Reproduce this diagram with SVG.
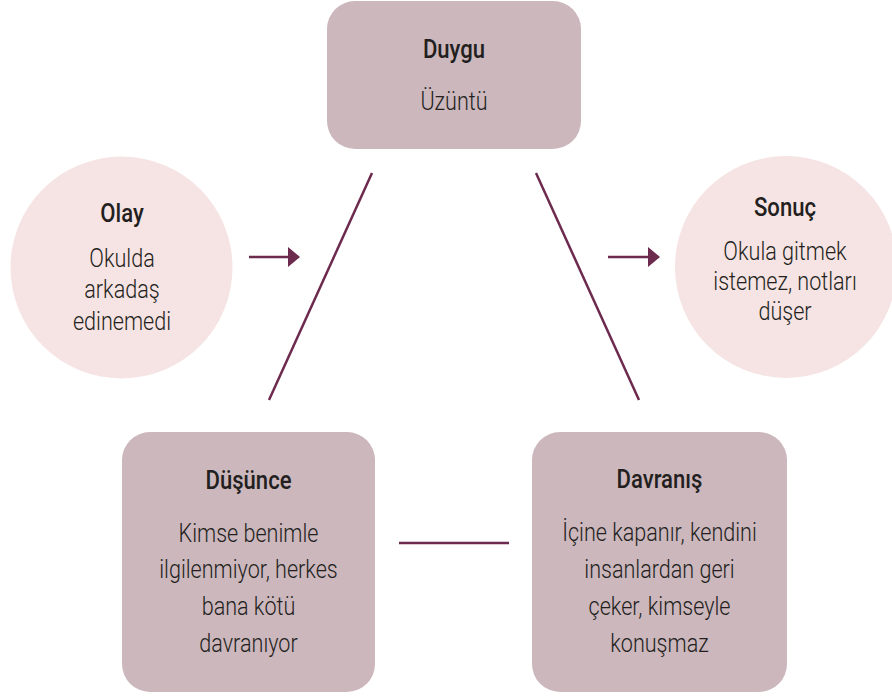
<svg xmlns="http://www.w3.org/2000/svg" width="892" height="696" viewBox="0 0 892 696">
<defs>
<style>
.box{fill:#ccb7bd;}
.circ{fill:#f6e3e3;}
.ln{stroke:#6d2a4f;stroke-width:2.5;fill:none;}
.ah{fill:#6d2a4f;}
text{font-family:Roboto,"Liberation Sans",Arial,sans-serif;fill:#231f20;text-anchor:middle;}
.t{font-size:26px;font-weight:500;}
.b{font-size:26px;font-weight:300;}
</style>
</defs>
<rect width="892" height="696" fill="#ffffff"/>
<g id="connectors">
<line class="ln" x1="372" y1="173" x2="269" y2="400"/>
<line class="ln" x1="536" y1="173" x2="639" y2="400"/>
<line class="ln" x1="399" y1="543" x2="509" y2="543"/>
<line class="ln" x1="249" y1="257" x2="290" y2="257"/>
<polygon class="ah" points="288,247 300,257 288,267"/>
<line class="ln" x1="608" y1="257" x2="650" y2="257"/>
<polygon class="ah" points="648,247 660,257 648,267"/>
</g>
<g id="duygu">
<rect class="box" x="327" y="1" width="254" height="148" rx="28"/>
<text class="t" transform="translate(454 58) scale(0.85 1)">Duygu</text>
<text class="b" transform="translate(454 110) scale(0.83 1)">Üzüntü</text>
</g>
<g id="olay">
<circle class="circ" cx="121.5" cy="267.5" r="111"/>
<text class="t" transform="translate(122 222) scale(0.85 1)">Olay</text>
<g transform="translate(122 0) scale(0.83 1)">
<text class="b" x="0" y="267">Okulda</text>
<text class="b" x="0" y="298">arkadaş</text>
<text class="b" x="0" y="330">edinemedi</text>
</g>
</g>
<g id="sonuc">
<circle class="circ" cx="786" cy="267" r="111"/>
<text class="t" transform="translate(785 216) scale(0.85 1)">Sonuç</text>
<g transform="translate(785 0) scale(0.83 1)">
<text class="b" x="0" y="260">Okula gitmek</text>
<text class="b" x="0" y="290">istemez, notları</text>
<text class="b" x="0" y="320">düşer</text>
</g>
</g>
<g id="dusunce">
<rect class="box" x="122" y="432" width="253" height="260" rx="28"/>
<text class="t" transform="translate(248.5 489) scale(0.85 1)">Düşünce</text>
<g transform="translate(248.5 0) scale(0.83 1)">
<text class="b" x="0" y="542">Kimse benimle</text>
<text class="b" x="0" y="578">ilgilenmiyor, herkes</text>
<text class="b" x="0" y="615">bana kötü</text>
<text class="b" x="0" y="652">davranıyor</text>
</g>
</g>
<g id="davranis">
<rect class="box" x="532" y="432" width="255" height="260" rx="28"/>
<text class="t" transform="translate(659.5 488) scale(0.85 1)">Davranış</text>
<g transform="translate(659.5 0) scale(0.83 1)">
<text class="b" x="0" y="541">İçine kapanır, kendini</text>
<text class="b" x="0" y="578">insanlardan geri</text>
<text class="b" x="0" y="615">çeker, kimseyle</text>
<text class="b" x="0" y="652">konuşmaz</text>
</g>
</g>
</svg>
